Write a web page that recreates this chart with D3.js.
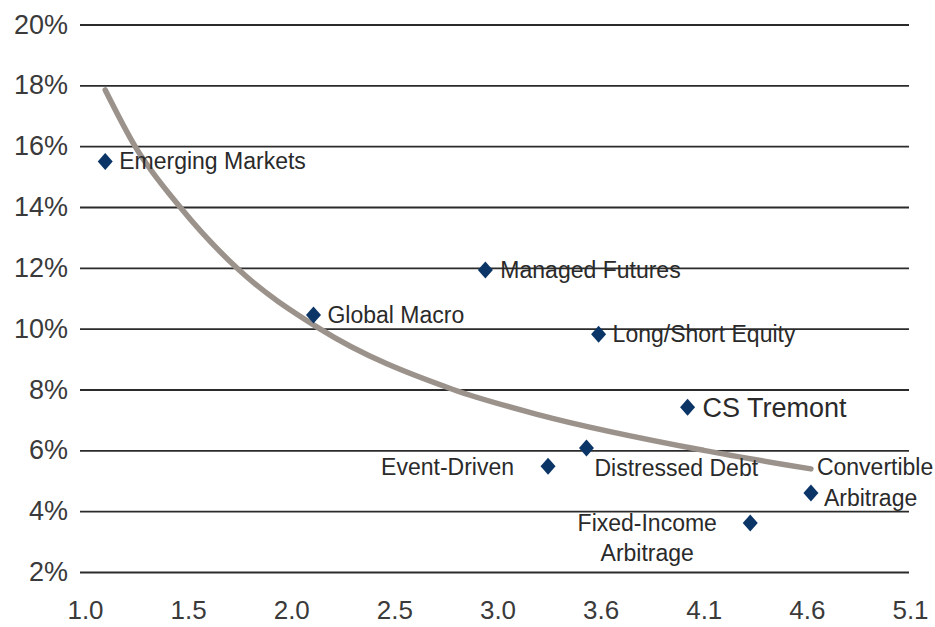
<!DOCTYPE html>
<html>
<head>
<meta charset="utf-8">
<script src="https://cdn.jsdelivr.net/npm/d3@7"></script>
<style>
  body { margin: 0; background: #fff; }
  svg { display: block; font-family: "Liberation Sans", Arial, sans-serif; }
</style>
</head>
<body>
<svg id="chart" width="935" height="627"></svg>
<script>
const strategies = ['Emerging Markets', 'Global Macro', 'Managed Futures', 'Long/Short Equity', 'CS Tremont',
  'Event-Driven', 'Distressed Debt', 'Convertible Arbitrage', 'Fixed-Income Arbitrage']
const ratio = [1.10, 2.13, 2.98, 3.54, 3.98, 3.29, 3.48, 4.59, 4.29]
const returns = [15.5, 10.45, 11.93, 9.82, 7.42, 5.48, 6.08, 4.6, 3.61]

const fitX = [1.10, 1.25, 1.47, 1.75, 2.16, 2.82, 3.25, 4.06, 4.59]
const fitY = [17.85, 15.97, 14.0, 12.0, 10.0, 8.0, 7.16, 6.0, 5.39]

const yTicks = [2, 4, 6, 8, 10, 12, 14, 16, 18, 20]
const xTicks = [1.0, 1.51, 2.02, 2.53, 3.04, 3.55, 4.06, 4.57, 5.08]
const xTickLabels = ['1.0', '1.5', '2.0', '2.5', '3.0', '3.6', '4.1', '4.6', '5.1']

const svg = d3.select('#chart')
const gridLeft = 80
const gridRight = 909
const markerColor = '#0a3566'
const curveColor = '#9b928b'
const textColor = '#2a2a2a'

const xScale = d3.scaleLinear().domain([1.0, 5.08]).range([85, 910])
const yScale = d3.scaleLinear().domain([2, 20]).range([572, 24.5])

// y axis + gridlines
const yAxis = d3.axisLeft(yScale)
  .tickValues(yTicks)
  .tickSize(-(gridRight - gridLeft))
  .tickPadding(12)
  .tickFormat(d => d + '%')

svg.append('g')
  .attr('transform', `translate(${gridLeft}, 0)`)
  .call(yAxis)
  .call(g => g.select('.domain').remove())
  .call(g => g.selectAll('.tick line').attr('stroke', '#2b2b2b').attr('stroke-width', 1.8))
  .call(g => g.selectAll('.tick text')
    .attr('fill', '#3a3a3a')
    .attr('font-size', '27px')
    .attr('font-family', '"Liberation Sans", Arial, sans-serif'))

// x axis (labels only)
const xAxis = d3.axisBottom(xScale)
  .tickValues(xTicks)
  .tickSize(0)
  .tickPadding(29)
  .tickFormat((d, i) => xTickLabels[i])

svg.append('g')
  .attr('transform', `translate(0, ${yScale(2)})`)
  .call(xAxis)
  .call(g => g.select('.domain').remove())
  .call(g => g.selectAll('.tick text')
    .attr('fill', '#3a3a3a')
    .attr('font-size', '26px')
    .attr('font-family', '"Liberation Sans", Arial, sans-serif'))

// fitted curve
const fitData = fitX.map((x, i) => ({ x: x, y: fitY[i] }))
const line = d3.line()
  .x(d => xScale(d.x))
  .y(d => yScale(d.y))
  .curve(d3.curveMonotoneX)

svg.append('path')
  .datum(fitData)
  .attr('fill', 'none')
  .attr('stroke', curveColor)
  .attr('stroke-width', 5.5)
  .attr('stroke-linecap', 'round')
  .attr('d', line)

// diamond markers
const diamond = {
  draw(ctx, size) {
    const w = 7.5, h = 8.5
    ctx.moveTo(0, -h)
    ctx.lineTo(w, 0)
    ctx.lineTo(0, h)
    ctx.lineTo(-w, 0)
    ctx.closePath()
  }
}

const points = strategies.map((s, i) => ({ name: s, x: ratio[i], y: returns[i] }))

svg.selectAll('path.pt')
  .data(points)
  .enter()
  .append('path')
    .attr('class', 'pt')
    .attr('fill', markerColor)
    .attr('transform', d => `translate(${xScale(d.x)}, ${yScale(d.y)})`)
    .attr('d', d3.symbol().type(diamond))

// labels: offsets relative to each marker
const labelSpec = {
  'Emerging Markets': { lines: [['Emerging Markets', 14, 0]], anchor: 'start', size: 23 },
  'Global Macro': { lines: [['Global Macro', 14, 0]], anchor: 'start', size: 23 },
  'Managed Futures': { lines: [['Managed Futures', 15, 0]], anchor: 'start', size: 23 },
  'Long/Short Equity': { lines: [['Long/Short Equity', 14, 0]], anchor: 'start', size: 23 },
  'CS Tremont': { lines: [['CS Tremont', 15, 0]], anchor: 'start', size: 27 },
  'Event-Driven': { lines: [['Event-Driven', -34, 1]], anchor: 'end', size: 23 },
  'Distressed Debt': { lines: [['Distressed Debt', 8, 20]], anchor: 'start', size: 23 },
  'Convertible Arbitrage': { lines: [['Convertible', 6, -26], ['Arbitrage', 13, 5]], anchor: 'start', size: 23 },
  'Fixed-Income Arbitrage': { lines: [['Fixed-Income', -103, 0], ['Arbitrage', -103, 30]], anchor: 'middle', size: 23 }
}

points.forEach(p => {
  const spec = labelSpec[p.name]
  spec.lines.forEach(l => {
    svg.append('text')
      .attr('x', xScale(p.x) + l[1])
      .attr('y', yScale(p.y) + l[2])
      .attr('dy', '0.35em')
      .attr('text-anchor', spec.anchor)
      .attr('font-size', spec.size + 'px')
      .attr('fill', textColor)
      .text(l[0])
  })
})
</script>
</body>
</html>
